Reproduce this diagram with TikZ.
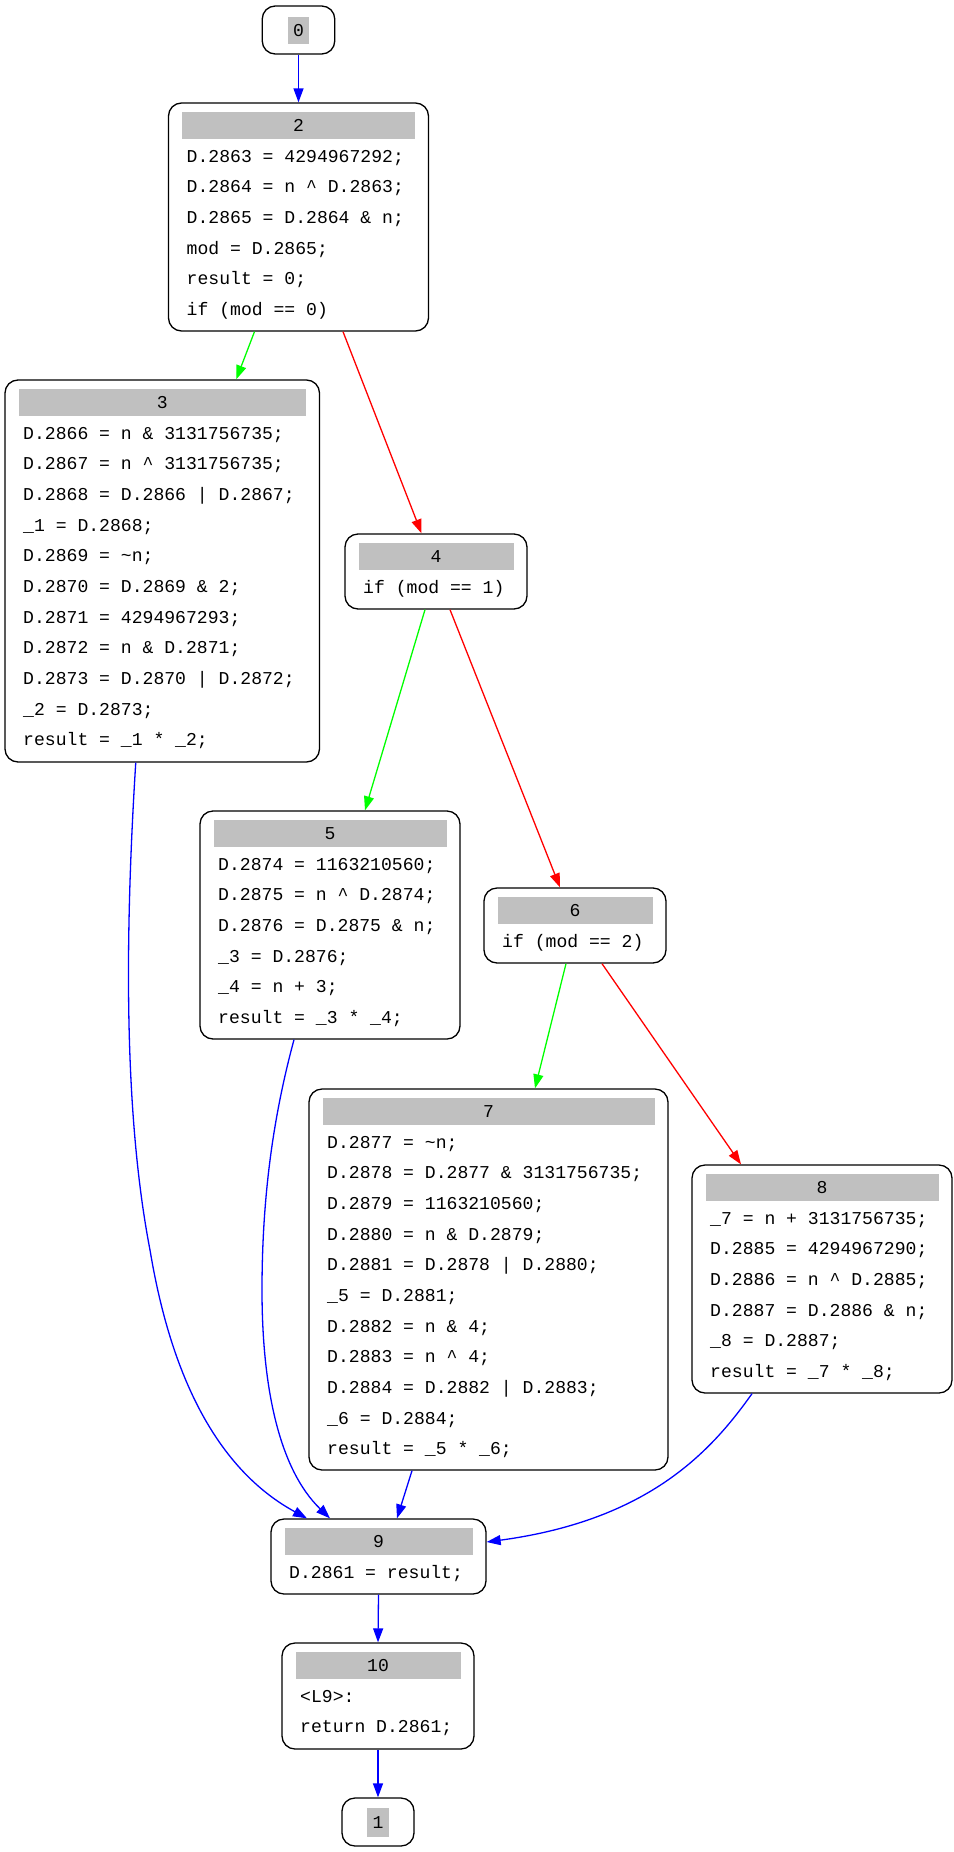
\documentclass[tikz,border=0pt]{standalone}
\usepackage{fontspec}
\newfontfamily\codefont{Liberation Mono}
\usetikzlibrary{arrows.meta}
\definecolor{hdr}{RGB}{192,192,192}
\definecolor{eblue}{RGB}{0,0,255}
\definecolor{egreen}{RGB}{0,255,0}
\definecolor{ered}{RGB}{255,0,0}
\tikzset{
  box/.style={draw=black, line width=1.3pt, rounded corners=13pt, inner sep=0pt, fill=white},
  code/.style={font=\codefont\fontsize{18.1}{22}\selectfont, inner sep=0pt, text=black},
  conn/.style={line width=1.3pt, -{Triangle[length=14pt,width=10pt]}},
}
\newcommand{\cfgbox}[6]{%
  \node[box, minimum width=#4pt, minimum height=#5pt] (#1) at ({#2+#4/2},{#3+#5/2}) {};
  \fill[hdr] ({#2+13.5},{#3+9}) rectangle ({#2+#4-13.5},{#3+36.3});
  \node[code, anchor=base] (#1h) at ({#2+#4/2},{#3+28.9}) {#6};
}
\newcommand{\cfglines}[4]{%
  \foreach \codeln [count=\i from 0] in {#4} {\node[code, anchor=base west] (#1l\i) at ({#2+18},{#3+59.2+30.65*\i}) {\codeln};}
}
\begin{document}
\begin{tikzpicture}[x=1pt,y=-1pt]
\useasboundingbox[fill=white] (0,0) rectangle (953,1852);

% node 0
\node[box, minimum width=72.5pt, minimum height=48pt] (n0) at (298.5,30) {};
\fill[hdr] (288,17) rectangle (309,44);
\node[code, anchor=base] (n0h) at (298.5,36.7) {0};

% node 2
\cfgbox{n2}{168.5}{103}{260}{228}{2}
\cfglines{n2}{168.5}{103}{D.2863 = 4294967292;, D.2864 = n \textasciicircum{} D.2863;, D.2865 = D.2864 \& n;, mod = D.2865;, result = 0;, if (mod == 0)}

% node 3
\cfgbox{n3}{5}{380}{314.5}{382}{3}
\cfglines{n3}{5}{380}{D.2866 = n \& 3131756735;, D.2867 = n \textasciicircum{} 3131756735;, D.2868 = D.2866 | D.2867;, \_1 = D.2868;, D.2869 = \textasciitilde{}n;, D.2870 = D.2869 \& 2;, D.2871 = 4294967293;, D.2872 = n \& D.2871;, D.2873 = D.2870 | D.2872;, \_2 = D.2873;, result = \_1 * \_2;}

% node 4
\cfgbox{n4}{345}{534}{182}{75}{4}
\cfglines{n4}{345}{534}{if (mod == 1)}

% node 5
\cfgbox{n5}{200}{811}{260}{228}{5}
\cfglines{n5}{200}{811}{D.2874 = 1163210560;, D.2875 = n \textasciicircum{} D.2874;, D.2876 = D.2875 \& n;, \_3 = D.2876;, \_4 = n + 3;, result = \_3 * \_4;}

% node 6
\cfgbox{n6}{484}{888}{182}{75}{6}
\cfglines{n6}{484}{888}{if (mod == 2)}

% node 7
\cfgbox{n7}{309}{1089}{359}{381}{7}
\cfglines{n7}{309}{1089}{D.2877 = \textasciitilde{}n;, D.2878 = D.2877 \& 3131756735;, D.2879 = 1163210560;, D.2880 = n \& D.2879;, D.2881 = D.2878 | D.2880;, \_5 = D.2881;, D.2882 = n \& 4;, D.2883 = n \textasciicircum{} 4;, D.2884 = D.2882 | D.2883;, \_6 = D.2884;, result = \_5 * \_6;}

% node 8
\cfgbox{n8}{692}{1165}{260}{228}{8}
\cfglines{n8}{692}{1165}{\_7 = n + 3131756735;, D.2885 = 4294967290;, D.2886 = n \textasciicircum{} D.2885;, D.2887 = D.2886 \& n;, \_8 = D.2887;, result = \_7 * \_8;}

% node 9
\cfgbox{n9}{271}{1519}{215}{75}{9}
\cfglines{n9}{271}{1519}{D.2861 = result;}

% node 10
\cfgbox{n10}{282}{1643}{192}{106}{10}
\cfglines{n10}{282}{1643}{<L9>:, return D.2861;}

% node 1
\node[box, minimum width=72pt, minimum height=48pt] (n1) at (378,1822) {};
\fill[hdr] (367,1808) rectangle (389,1837);
\node[code, anchor=base] (n1h) at (378,1828.7) {1};

% edges
\draw[conn, eblue] (n0.south) -- (n2.north);
\draw[conn, egreen] ([xshift=-44pt]n2.south) -- ([xshift=74pt]n3.north);
\draw[conn, ered] ([xshift=44.5pt]n2.south) -- ([xshift=-14.5pt]n4.north);
\draw[conn, egreen] ([xshift=-11pt]n4.south) -- ([xshift=35pt]n5.north);
\draw[conn, ered] ([xshift=14pt]n4.south) -- ([xshift=-15pt]n6.north);
\draw[conn, egreen] ([xshift=-9pt]n6.south) -- ([xshift=46.5pt]n7.north);
\draw[conn, ered] ([xshift=27pt]n6.south) -- ([xshift=-81pt]n8.north);
\draw[conn, eblue] ([xshift=-26.5pt]n3.south) .. controls (124,950) and (125,1120) .. (150,1250)
   .. controls (165,1340) and (200,1460) .. ([xshift=-71.5pt]n9.north);
\draw[conn, eblue] ([xshift=-36pt]n5.south) .. controls (275,1110) and (262,1190) .. (262,1290)
   .. controls (262,1390) and (280,1470) .. ([xshift=-48.5pt]n9.north);
\draw[conn, eblue] ([xshift=-76.5pt]n7.south) -- ([xshift=18.5pt]n9.north);
\draw[conn, eblue] ([xshift=-70pt]n8.south) .. controls (712,1450) and (650,1520) .. ([yshift=14.5pt]n9.east);
\draw[conn, eblue] (n9.south) -- (n10.north);
\draw[conn, eblue] (n10.south) -- (n1.north);
\end{tikzpicture}
\end{document}
